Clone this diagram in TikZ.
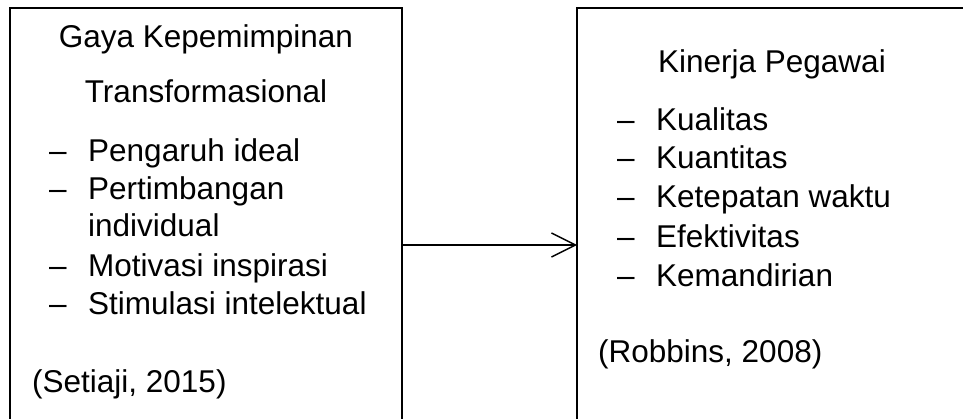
\documentclass[tikz,border=0pt]{standalone}
\usepackage{fontspec}
\setmainfont{Liberation Sans}
\usetikzlibrary{arrows.meta}
\begin{document}
\begin{tikzpicture}[x=1pt,y=-1pt,
  txt/.style={inner sep=0pt,anchor=base west,font=\fontsize{31.5}{38}\selectfont},
  ctxt/.style={inner sep=0pt,anchor=base,font=\fontsize{31.5}{38}\selectfont},
  frame/.style={line width=1.6pt,draw=black},
  conn/.style={line width=1.4pt,-{Straight Barb[length=24pt,width=24pt,line width=1.4pt]}}]
\useasboundingbox (0,0) rectangle (963,419);
% boxes (extending below / right of the page)
\draw[frame] (10,445) |- (402,8) -- (402,445);
\draw[frame] (577,445) |- (975,8);
\coordinate (Lr) at (402,245);
\coordinate (Rl) at (577,245);
% left box text
\node[ctxt] (t1) at (206,48) {Gaya Kepemimpinan};
\node[ctxt] (t2) at (206,103) {Transformasional};
\node[txt] (d1) at (49,162) {–};
\node[txt] (a1) at (88,162) {Pengaruh ideal};
\node[txt] (d2) at (49,200) {–};
\node[txt] (a2) at (88,200) {Pertimbangan};
\node[txt] (a2b) at (88,237) {individual};
\node[txt] (d3) at (49,277) {–};
\node[txt] (a3) at (88,277) {Motivasi inspirasi};
\node[txt] (d4) at (49,315) {–};
\node[txt] (a4) at (88,315) {Stimulasi intelektual};
\node[txt] (s1) at (32,392) {(Setiaji, 2015)};
% right box text
\node[ctxt] (k0) at (772,73) {Kinerja Pegawai};
\node[txt] (e1) at (617,131) {–};
\node[txt] (b1) at (656,131) {Kualitas};
\node[txt] (e2) at (617,169) {–};
\node[txt] (b2) at (656,169) {Kuantitas};
\node[txt] (e3) at (617,208) {–};
\node[txt] (b3) at (656,208) {Ketepatan waktu};
\node[txt] (e4) at (617,248) {–};
\node[txt] (b4) at (656,248) {Efektivitas};
\node[txt] (e5) at (617,287) {–};
\node[txt] (b5) at (656,287) {Kemandirian};
\node[txt] (s2) at (598,362) {(Robbins, 2008)};
% connector
\draw[conn] (Lr) -- (Rl);
\end{tikzpicture}
\end{document}
